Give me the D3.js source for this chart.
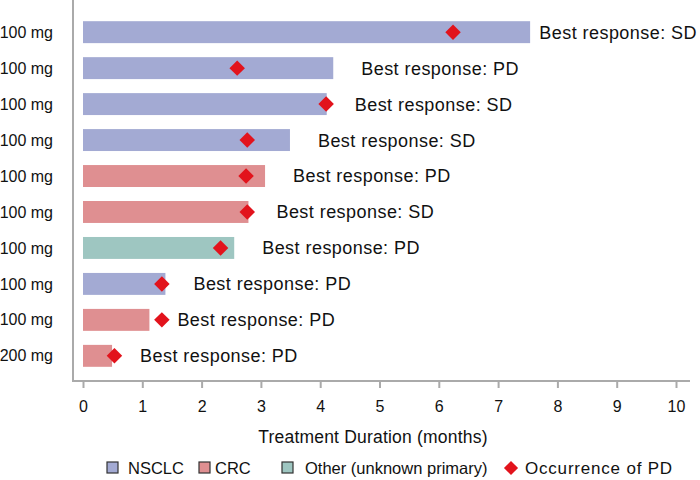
<!DOCTYPE html>
<html>
<head>
<meta charset="utf-8">
<script src="https://cdn.jsdelivr.net/npm/d3@7"></script>
<style>
  html, body { margin: 0; padding: 0; background: #fff; }
  svg { display: block; font-family: "Liberation Sans", Arial, sans-serif; }
</style>
</head>
<body>
<svg id="chart" width="700" height="480"></svg>
<script>
// ---- data ----
const doses = ["100 mg","100 mg","100 mg","100 mg","100 mg","100 mg","100 mg","100 mg","100 mg","200 mg"];
const durations = [7.54, 4.22, 4.11, 3.49, 3.07, 2.79, 2.55, 1.39, 1.12, 0.49];
const pdTimes = [6.24, 2.60, 4.10, 2.77, 2.75, 2.77, 2.32, 1.33, 1.33, 0.53];
const tumorTypes = ["NSCLC","NSCLC","NSCLC","NSCLC","CRC","CRC","Other","NSCLC","CRC","CRC"];
const responses = ["SD","PD","SD","SD","PD","SD","PD","PD","PD","PD"];
const xTicks = [0,1,2,3,4,5,6,7,8,9,10];
const legendLabels = ["NSCLC","CRC","Other (unknown primary)","Occurrence of PD"];
const typeKeys = ["NSCLC","CRC","Other"];
const typeColors = ["#a3aad3","#df8f91","#9ec6c1"];
const pdColor = "#e2131c";

// ---- layout ----
const W = 700, H = 480;
const axisX = 73, axisY = 381;
const svg = d3.select("#chart");

const x = d3.scaleLinear().domain([0, 10]).range([83, 676]);
const rows = d3.range(doses.length);
const y = d3.scaleBand().domain(rows).range([14, 374]).paddingInner(0.39).paddingOuter(0.2);
const color = d3.scaleOrdinal().domain(typeKeys).range(typeColors);

// axes lines
svg.append("line").attr("x1", axisX).attr("x2", axisX).attr("y1", 0).attr("y2", axisY)
  .attr("stroke", "#aaaaaa").attr("stroke-width", 2);
svg.append("line").attr("x1", axisX - 1).attr("x2", 690).attr("y1", axisY).attr("y2", axisY)
  .attr("stroke", "#aaaaaa").attr("stroke-width", 2);

// x axis ticks
const xAxis = d3.axisBottom(x).tickValues(xTicks).tickSize(7).tickPadding(13).tickFormat(d3.format("d"));
const gx = svg.append("g").attr("transform", `translate(0,${axisY})`).call(xAxis);
gx.select(".domain").remove();
gx.selectAll(".tick line").attr("stroke", "#aaaaaa").attr("stroke-width", 2);
gx.selectAll(".tick text").attr("font-size", 16).attr("fill", "#111")
  .attr("font-family", "Liberation Sans, Arial, sans-serif");

svg.append("text").attr("x", 373).attr("y", 443)
  .attr("text-anchor", "middle").attr("font-size", 17.5).attr("letter-spacing", 0.2).attr("fill", "#111")
  .text("Treatment Duration (months)");

// y labels
svg.selectAll(".ylab").data(rows).join("text")
  .attr("class", "ylab")
  .attr("x", 53).attr("y", i => y(i) + y.bandwidth() / 2)
  .attr("dy", "0.35em").attr("text-anchor", "end")
  .attr("font-size", 16).attr("fill", "#111")
  .text(i => doses[i]);

// bars
svg.selectAll(".bar").data(rows).join("rect")
  .attr("class", "bar")
  .attr("x", x(0)).attr("y", i => y(i))
  .attr("width", i => x(durations[i]) - x(0))
  .attr("height", y.bandwidth())
  .attr("fill", i => color(tumorTypes[i]));

// diamonds
const diamond = d3.symbol().type(d3.symbolSquare).size(120);
svg.selectAll(".pd").data(rows).join("path")
  .attr("class", "pd")
  .attr("d", diamond)
  .attr("transform", i => `translate(${x(pdTimes[i])},${y(i) + y.bandwidth() / 2}) rotate(45)`)
  .attr("fill", pdColor);

// response labels
const labels = svg.selectAll(".resp").data(rows).join("text")
  .attr("class", "resp")
  .attr("y", i => y(i) + y.bandwidth() / 2)
  .attr("dy", "0.36em")
  .attr("font-size", 18).attr("letter-spacing", 0.45).attr("fill", "#111")
  .text(i => "Best response: " + responses[i]);
labels.each(function(i) {
  const w = this.getComputedTextLength();
  const xs = Math.min(x(durations[i]) + 28, W - 3 - w);
  d3.select(this).attr("x", xs);
});

// legend
const legY = 468;
const legX = [107, 199, 282, 511];
const legTextX = [128, 215, 305, 525];
const lg = svg.append("g");
legendLabels.forEach((lab, k) => {
  if (k < 3) {
    lg.append("rect").attr("x", legX[k]).attr("y", legY - 6).attr("width", 11).attr("height", 11)
      .attr("fill", typeColors[k]).attr("stroke", "#333").attr("stroke-width", 1.2);
  } else {
    lg.append("path").attr("d", d3.symbol().type(d3.symbolSquare).size(100))
      .attr("transform", `translate(${legX[k]},${legY}) rotate(45)`).attr("fill", pdColor);
  }
  lg.append("text").attr("x", legTextX[k]).attr("y", legY).attr("dy", "0.35em")
    .attr("font-size", k === 3 ? 17 : 16.5).attr("letter-spacing", k === 3 ? 0.8 : 0).attr("fill", "#111").text(lab);
});
</script>
</body>
</html>
